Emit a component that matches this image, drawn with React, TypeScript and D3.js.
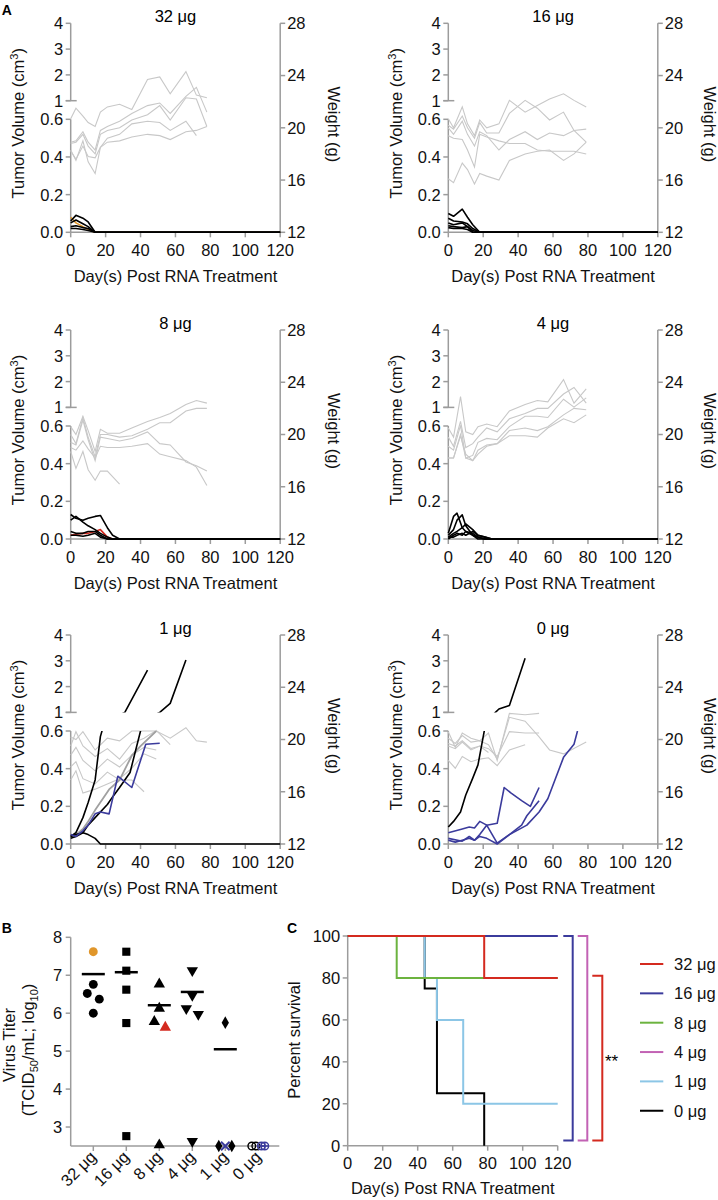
import React from "react";
import * as d3 from "d3";

const FONT = "'Liberation Sans', Arial, Helvetica, sans-serif";
const AXIS = "#9c9c9c";
const WCOL = "#c8c8c8";
const BLUE = "#3b3b9c";
const RED = "#d42a1f";
const ORANGE = "#e0962a";
const GREEN = "#6cb33f";
const PURPLE = "#c262b4";
const LBLUE = "#8cc6e6";

// ---------------- Panel A ticks ----------------
const dayTicks = [0, 20, 40, 60, 80, 100, 120];
const volLowTicks = [0, 0.2, 0.4, 0.6];
const volLowLabels = ["0.0", "0.2", "0.4", "0.6"];
const volUpTicks = [1, 2, 3, 4];
const weightTicks = [12, 16, 20, 24, 28];

// ---------------- 32 µg ----------------
const w32Days = [0, 3, 7, 10, 14, 17, 21, 28, 35, 44, 51, 57, 66, 72, 78];
const w32a = [20.7, 21.5, 20.9, 20.4, 20.1, 21.2, 21.6, 21.8, 21.4, 23.7, 23.9, 22.6, 24.3, 22.5, 22.3];
const w32b = [18.9, 19.0, 19.7, 18.9, 18.3, 19.8, 20.1, 20.5, 21.1, 21.7, 21.9, 21.1, 22.4, 23.1, 21.2];
const w32c = [18.8, 18.9, 19.5, 18.6, 18.0, 19.5, 19.8, 20.0, 20.6, 21.0, 21.7, 20.6, 22.3, 22.2, 20.1];
const w32d = [18.3, 17.5, 19.0, 17.4, 16.5, 18.5, 19.2, 19.5, 20.3, 20.5, 20.4, 19.8, 20.5, 19.4];
const w32e = [18.2, 17.6, 18.6, 17.8, 17.7, 18.5, 18.9, 19.0, 19.3, 19.5, 19.4, 19.1, 19.7, 19.8, 20.1];
const t32Days = [0, 3, 7, 10, 14, 120];
const t32o = [0.08, 0.05, 0.03, 0.015, 0, 0];
const t32a = [0.06, 0.09, 0.075, 0.055, 0, 0];
const t32b = [0.05, 0.065, 0.045, 0.03, 0, 0];
const t32c = [0.03, 0.035, 0.025, 0.02, 0, 0];
const t32d = [0.02, 0.02, 0.015, 0.01, 0, 0];

// ---------------- 16 µg ----------------
const w16Days = [0, 3, 8, 11, 15, 18, 22, 29, 35, 44, 51, 58, 66, 72, 79];
const w16a = [20.7, 20.0, 21.6, 20.3, 19.4, 20.6, 20.0, 20.3, 22.1, 21.2, 21.7, 22.2, 22.6, 22.1, 21.6];
const w16b = [20.2, 19.9, 20.9, 20.0, 19.2, 20.4, 19.6, 19.6, 21.1, 22.1, 21.5, 20.6, 21.2, 19.8, 18.9];
const w16c = [20.0, 19.5, 20.5, 19.5, 18.6, 19.7, 19.4, 18.3, 19.1, 19.7, 19.1, 19.6, 19.4, 19.8, 19.9];
const w16d = [19.4, 19.2, 19.1, 18.3, 17.0, 19.5, 19.3, 19.0, 18.8, 18.8, 18.3, 18.2, 18.2, 18.2, 18.0];
const w16e = [16.1, 15.8, 17.3, 16.8, 15.7, 16.5, 16.3, 16.0, 17.5, 18.0, 18.2, 18.3, 17.5, 18.0, 18.9];
const t16Days = [0, 3, 8, 11, 14, 18, 120];
const t16a = [0.1, 0.085, 0.123, 0.08, 0.04, 0, 0];
const t16b = [0.075, 0.06, 0.055, 0.045, 0.02, 0, 0];
const t16c = [0.05, 0.04, 0.05, 0.03, 0.01, 0, 0];
const t16d = [0.035, 0.03, 0.025, 0.03, 0, 0, 0];
const t16e = [0.025, 0.02, 0.02, 0.015, 0, 0, 0];

// ---------------- 8 µg ----------------
const w8Days = [0, 3, 7, 10, 14, 17, 21, 28, 35, 44, 51, 57, 66, 72, 78];
const w8a = [20.6, 20.0, 21.4, 20.3, 18.7, 20.4, 20.1, 20.1, 20.5, 21.0, 21.3, 21.6, 22.3, 22.6, 22.4];
const w8b = [20.0, 19.3, 21.3, 19.8, 18.3, 20.0, 20.0, 19.8, 19.9, 20.4, 20.9, 20.9, 21.8, 22.0, 22.0];
const w8c = [19.4, 19.2, 21.1, 19.6, 18.0, 19.8, 19.7, 19.5, 19.7, 20.2, 19.3, 19.2, 17.9, 17.6, 17.2];
const w8d = [19.0, 18.8, 19.5, 18.9, 18.2, 19.1, 19.0, 19.0, 19.1, 19.3, 18.5, 18.3, 18.0, 17.5, 16.1];
const w8e = [18.7, 17.4, 18.7, 17.3, 16.5, 17.2, 17.2, 16.2];
const t8Days = [0, 3, 7, 10, 14, 17, 21, 24, 28, 120];
const t8a = [0.13, 0.11, 0.1, 0.11, 0.12, 0.125, 0.06, 0.02, 0, 0];
const t8b = [0.1, 0.12, 0.09, 0.07, 0.05, 0.03, 0.01, 0, 0, 0];
const t8c = [0.04, 0.03, 0.03, 0.04, 0.04, 0.02, 0, 0, 0, 0];
const t8d = [0.02, 0.02, 0.015, 0.02, 0.03, 0.01, 0, 0, 0, 0];
const t8r = [0.02, 0.025, 0.03, 0.03, 0.04, 0.05, 0.01, 0, 0];

// ---------------- 4 µg ----------------
const w4Days = [0, 3, 7, 10, 14, 17, 22, 28, 35, 44, 51, 57, 66, 72, 79];
const w4a = [20.5, 19.8, 22.9, 20.2, 20.0, 20.6, 20.8, 20.6, 21.8, 22.3, 22.6, 22.5, 24.2, 22.4, 23.5];
const w4b = [19.8, 19.1, 21.0, 19.0, 19.3, 19.8, 20.5, 20.2, 21.2, 21.6, 22.0, 22.0, 23.1, 23.6, 22.4];
const w4c = [19.1, 18.8, 20.7, 18.2, 18.4, 19.4, 19.7, 19.6, 20.6, 21.4, 21.4, 21.3, 22.7, 22.1, 22.8];
const w4d = [18.2, 18.2, 20.0, 18.2, 18.0, 18.8, 19.2, 19.3, 20.3, 20.5, 20.3, 20.6, 21.5, 22.0, 21.9];
const w4e = [18.2, 18.2, 19.9, 18.5, 18.0, 18.5, 19.1, 19.3, 19.9, 19.9, 19.8, 20.5, 21.2, 20.9, 21.5];
const t4Days = [0, 3, 5, 8, 10, 14, 17, 21, 25, 120];
const t4a = [0.03, 0.12, 0.137, 0.06, 0.04, 0.02, 0.01, 0, 0, 0];
const t4b = [0.02, 0.05, 0.1, 0.128, 0.07, 0.02, 0, 0, 0, 0];
const t4c = [0.01, 0.03, 0.04, 0.06, 0.08, 0.05, 0.02, 0.01, 0, 0];
const t4d = [0, 0.02, 0.03, 0.02, 0.04, 0.03, 0.01, 0, 0, 0];
const t4e = [0.01, 0.01, 0.02, 0.03, 0.02, 0.04, 0.02, 0.01, 0, 0];

// ---------------- 1 µg ----------------
const w1Days = [0, 3, 7, 14, 21, 28, 35, 42, 49, 57, 66, 72, 78];
const w1a = [20.2, 20.0, 20.6, 19.2, 20.1, 19.9, 20.65, 20.65, 20.65, 20.1, 20.9, 19.9, 19.8];
const w1b = [19.5, 20.6, 19.5, 18.7, 19.3, 18.5, 19.7, 20.1, 20.7, 19.6];
const w1c = [18.8, 19.4, 18.4, 17.6, 18.5, 17.9, 18.8, 19.4, 19.2];
const w1d = [17.9, 18.3, 17.0, 16.6, 17.5, 16.9, 16.9, 16.0];
const w1e = [16.9, 17.6, 15.9, 16.2, 16.6, 17.0, 17.8, 18.9, 18.5];
const t1aDays = [0, 3, 7, 10, 14, 17, 21, 28, 31, 44];
const t1a = [0.04, 0.06, 0.14, 0.22, 0.34, 0.57, 0.7, 0.9, 1.0, 2.64];
const t1bDays = [0, 3, 7, 10, 14, 21, 24, 28, 34, 40, 45, 51, 57, 66];
const t1b = [0.03, 0.04, 0.06, 0.1, 0.14, 0.21, 0.25, 0.3, 0.38, 0.6, 0.8, 1.0, 1.35, 3.03];
const t1cDays = [0, 3, 7, 10, 14, 17, 120];
const t1c = [0.04, 0.05, 0.06, 0.05, 0.03, 0, 0];
const t1gDays = [0, 3, 7, 10, 14, 22, 28, 35, 40, 49];
const t1g = [0.04, 0.05, 0.08, 0.12, 0.18, 0.29, 0.34, 0.47, 0.52, 0.6];
const t1uDays = [0, 3, 7, 10, 14, 17, 22, 27, 35, 43, 51];
const t1u = [0.05, 0.04, 0.07, 0.1, 0.16, 0.17, 0.16, 0.36, 0.3, 0.53, 0.535];

// ---------------- 0 µg ----------------
const w0Days = [0, 4, 8, 13, 18, 23, 28, 35, 44, 52, 58, 66, 79];
const w0a = [20.6, 19.4, 20.5, 20.1, 19.9, 20.5, 18.4, 22.0, 21.9, 22.0];
const w0b = [20.1, 19.7, 20.3, 19.8, 19.9, 19.6, 18.5, 21.7, 21.4, 20.2, 19.2, 18.9, 19.8];
const w0c = [19.7, 19.5, 19.9, 19.3, 19.5, 19.3, 18.7, 20.6, 20.5, 20.5];
const w0d = [18.4, 17.8, 18.7, 18.3, 18.5, 18.6, 18.0, 19.2, 19.6];
const w0e = [19.5, 19.3, 19.8, 19.2, 19.5, 19.0];
const t0kDays = [0, 3, 7, 10, 14, 17, 21, 24, 27, 29, 35, 44];
const t0k = [0.09, 0.12, 0.17, 0.26, 0.35, 0.42, 0.62, 0.8, 1.0, 1.13, 1.27, 3.1];
const t0aDays = [0, 8, 12, 15, 18, 22, 28, 32, 36, 42, 47, 52];
const t0a = [0.06, 0.08, 0.09, 0.085, 0.12, 0.1, 0.11, 0.3, 0.27, 0.23, 0.2, 0.3];
const t0bDays = [0, 8, 12, 15, 18, 22, 28, 35, 42, 45, 52];
const t0b = [0.03, 0.015, 0.04, 0.02, 0.05, 0.1, 0.005, 0.05, 0.1, 0.15, 0.23];
const t0cDays = [0, 4, 8, 12, 15, 18, 22, 28, 35, 45, 52, 57, 66, 72, 74];
const t0c = [0.02, 0.01, 0.02, 0.03, 0.02, 0.04, 0.03, 0.0, 0.05, 0.1, 0.17, 0.24, 0.46, 0.53, 0.6];

type Series = { days: number[]; vals: number[]; color: string; width: number };
const blk = (days: number[], vals: number[], color = "#000", width = 1.6): Series => ({ days, vals, color, width });

const panelsA = [
  { title: "32 μg", col: 0, row: 0, wDays: w32Days, weights: [w32a, w32b, w32c, w32d, w32e],
    tumors: [blk(t32Days, t32o, ORANGE), blk(t32Days, t32a), blk(t32Days, t32b), blk(t32Days, t32c), blk(t32Days, t32d)] },
  { title: "16 μg", col: 1, row: 0, wDays: w16Days, weights: [w16a, w16b, w16c, w16d, w16e],
    tumors: [blk(t16Days, t16a), blk(t16Days, t16b), blk(t16Days, t16c), blk(t16Days, t16d), blk(t16Days, t16e)] },
  { title: "8 μg", col: 0, row: 1, wDays: w8Days, weights: [w8a, w8b, w8c, w8d, w8e],
    tumors: [blk(t8Days, t8r, RED), blk(t8Days, t8a), blk(t8Days, t8b), blk(t8Days, t8c), blk(t8Days, t8d)] },
  { title: "4 μg", col: 1, row: 1, wDays: w4Days, weights: [w4a, w4b, w4c, w4d, w4e],
    tumors: [blk(t4Days, t4a), blk(t4Days, t4b), blk(t4Days, t4c), blk(t4Days, t4d), blk(t4Days, t4e)] },
  { title: "1 μg", col: 0, row: 2, wDays: w1Days, weights: [w1a, w1b, w1c, w1d, w1e],
    tumors: [blk(t1gDays, t1g, "#a0a0a0", 1.8), blk(t1aDays, t1a), blk(t1bDays, t1b), blk(t1cDays, t1c), blk(t1uDays, t1u, BLUE)] },
  { title: "0 μg", col: 1, row: 2, wDays: w0Days, weights: [w0a, w0b, w0c, w0d, w0e],
    tumors: [blk(t0kDays, t0k), blk(t0aDays, t0a, BLUE), blk(t0bDays, t0b, BLUE), blk(t0cDays, t0c, BLUE)] },
];

const COLX = [70.7, 448.3];
const ROWY = [23.3, 330, 635];
const PW = 209.5;
const FS = 16.5;

function TumorPanel({ p, idx }: { p: any; idx: number }) {
  const xL = COLX[p.col];
  const xR = xL + PW;
  const top = ROWY[p.row];
  const y4 = top, y1 = top + 77.4, y06 = top + 96, y0 = top + 209;
  const x = d3.scaleLinear().domain([0, 120]).range([xL, xR]);
  const lo = d3.scaleLinear().domain([0, 0.6]).range([y0, y06]);
  const up = d3.scaleLinear().domain([1, 4]).range([y1, y4]);
  const w = d3.scaleLinear().domain([12, 28]).range([y0, y4]);
  const pts = (days: number[], vals: number[]) => vals.map((v, i) => [days[i], v] as [number, number]);
  const wLine = d3.line<[number, number]>().x(d => x(d[0])).y(d => w(d[1]));
  const loLine = d3.line<[number, number]>().x(d => x(d[0])).y(d => lo(d[1]));
  const upLine = d3.line<[number, number]>().x(d => x(d[0])).y(d => up(d[1]));
  const cx = (xL + xR) / 2;
  const labX = p.col === 0 ? 23.5 : 402;
  const wLabX = p.col === 0 ? 328 : 704;
  return (
    <g>
      <defs>
        <clipPath id={`lo${idx}`}><rect x={xL - 2} y={y06} width={PW + 4} height={y0 - y06 + 2} /></clipPath>
        <clipPath id={`up${idx}`}><rect x={xL - 2} y={y4 - 2} width={PW + 4} height={y1 - y4 + 2} /></clipPath>
      </defs>
      <text x={cx} y={top - 1.5} textAnchor="middle" fontSize={FS}>{p.title}</text>
      <g stroke={AXIS} strokeWidth={1.5} fill="none">
        <line x1={xL} x2={xL} y1={y0} y2={y06} />
        <line x1={xL} x2={xL} y1={y1} y2={y4} />
        <line x1={xL - 5} x2={xL + 6} y1={y1} y2={y1} />
        {volLowTicks.map(t => <line key={t} x1={xL - 5} x2={xL} y1={lo(t)} y2={lo(t)} />)}
        {volUpTicks.map(t => <line key={t} x1={xL - 5} x2={xL} y1={up(t)} y2={up(t)} />)}
        <line x1={xR} x2={xR} y1={y0} y2={y4} />
        {weightTicks.map(t => <line key={t} x1={xR} x2={xR + 5} y1={w(t)} y2={w(t)} />)}
        <line x1={xL} x2={xR} y1={y0} y2={y0} />
        {dayTicks.map(t => <line key={t} x1={x(t)} x2={x(t)} y1={y0} y2={y0 + 5} />)}
      </g>
      <g fontSize={FS} fill="#111">
        {volLowTicks.map((t, i) => <text key={t} x={xL - 7.5} y={lo(t)} dy="0.36em" textAnchor="end">{volLowLabels[i]}</text>)}
        {volUpTicks.map(t => <text key={t} x={xL - 7.5} y={up(t)} dy="0.36em" textAnchor="end">{t}</text>)}
        {weightTicks.map(t => <text key={t} x={xR + 7} y={w(t)} dy="0.36em" textAnchor="start">{t}</text>)}
        {dayTicks.map(t => <text key={t} x={x(t)} y={y0 + 23.7} textAnchor="middle">{t}</text>)}
        <text x={cx} y={y0 + 50} textAnchor="middle">Day(s) Post RNA Treatment</text>
        <text transform={`translate(${labX},${top + 100}) rotate(-90)`} textAnchor="middle">
          Tumor Volume (cm<tspan dy="-6" fontSize={11}>3</tspan><tspan dy="6">)</tspan>
        </text>
        <text transform={`translate(${wLabX},${top + 101}) rotate(90)`} textAnchor="middle">Weight (g)</text>
      </g>
      <g fill="none" stroke={WCOL} strokeWidth={1.1}>
        {p.weights.map((vals: number[], i: number) => <path key={i} d={wLine(pts(p.wDays, vals)) || ""} />)}
      </g>
      <g fill="none" strokeLinejoin="round">
        <g clipPath={`url(#lo${idx})`}>
          {p.tumors.map((s: Series, i: number) => <path key={i} d={loLine(pts(s.days, s.vals)) || ""} stroke={s.color} strokeWidth={s.width} />)}
        </g>
        <g clipPath={`url(#up${idx})`}>
          {p.tumors.map((s: Series, i: number) => <path key={i} d={upLine(pts(s.days, s.vals)) || ""} stroke={s.color} strokeWidth={s.width} />)}
        </g>
      </g>
    </g>
  );
}

// ---------------- Panel B ----------------
const titerGroups = ["32 μg", "16 μg", "8 μg", "4 μg", "1 μg", "0 μg"];
const titerTicks = [3, 4, 5, 6, 7, 8];
const titerMeans = [7.03, 7.08, 6.21, 6.56, 5.05];
const titer32 = [7.62, 6.76, 6.52, 6.37, 6.0];
const titer16 = [7.62, 7.12, 6.62, 5.74, 2.76];
const titer8 = [6.74, 6.1, 5.75, 5.6, 2.5];
const titer4 = [7.15, 6.5, 6.15, 6.0, 2.65];
const titer1 = [5.75, 2.5, 2.5, 2.5];
const titer0 = [2.5, 2.5, 2.5, 2.5];
const col32 = [ORANGE, "#000", "#000", "#000", "#000"];
const off32 = [0, 0, -6, 6, 0];
const col8 = ["#000", "#000", "#000", RED, "#000"];
const off8 = [0, 0, -5, 6, 0];
const off4 = [0, 0, -6, 6, 0];
const off1 = [0, -6.5, 0, 6.5];
const col1 = ["#000", "#000", BLUE, "#000"];
const off0 = [-6.5, -2.5, 3, 6.5];
const col0 = ["#000", "#000", BLUE, BLUE];

function TiterPanel() {
  const xL = 70.7, xR = 279.3;
  const y = d3.scaleLinear().domain([2.5, 8]).range([1146, 937.3]);
  const x = d3.scalePoint<string>().domain(titerGroups).range([93.3, 258.3]);
  const sym = (type: any, size: number) => d3.symbol().type(type).size(size)() || "";
  const circ = sym(d3.symbolCircle, 62);
  const sq = sym(d3.symbolSquare, 66);
  const tri = sym(d3.symbolTriangle, 56);
  const dia = sym(d3.symbolDiamond, 46);
  const times = sym(d3.symbolTimes, 50);
  const g = (i: number) => x(titerGroups[i]) as number;
  return (
    <g>
      <text x={1.7} y={933} fontSize={14} fontWeight="bold">B</text>
      <g stroke={AXIS} strokeWidth={1.5}>
        <line x1={xL} x2={xL} y1={y(2.5)} y2={y(8)} />
        {titerTicks.map(t => <line key={t} x1={xL - 5} x2={xL} y1={y(t)} y2={y(t)} />)}
        <line x1={xL} x2={xR} y1={y(2.5)} y2={y(2.5)} />
        {titerGroups.map(gr => <line key={gr} x1={x(gr)!} x2={x(gr)!} y1={y(2.5)} y2={y(2.5) + 5} />)}
      </g>
      <g fontSize={FS} fill="#111">
        {titerTicks.map(t => <text key={t} x={xL - 8.5} y={y(t)} dy="0.36em" textAnchor="end">{t}</text>)}
        {titerGroups.map(gr => (
          <text key={gr} transform={`translate(${x(gr)! + 4},${y(2.5) + 12}) rotate(-45)`} textAnchor="end">{gr}</text>
        ))}
        <text transform="translate(14.5,1045) rotate(-90)" textAnchor="middle">Virus Titer</text>
        <text transform="translate(34,1050) rotate(-90)" textAnchor="middle">
          (TCID<tspan dy="4" fontSize={11}>50</tspan><tspan dy="-4">/mL; log</tspan><tspan dy="4" fontSize={11}>10</tspan><tspan dy="-4">)</tspan>
        </text>
      </g>
      {titer32.map((v, i) => <path key={"a" + i} d={circ} transform={`translate(${g(0) + off32[i]},${y(v)})`} fill={col32[i]} />)}
      {titer16.map((v, i) => <path key={"b" + i} d={sq} transform={`translate(${g(1)},${y(v)})`} fill="#000" />)}
      {titer8.map((v, i) => <path key={"c" + i} d={tri} transform={`translate(${g(2) + off8[i]},${y(v) - 1})`} fill={col8[i]} />)}
      {titer4.map((v, i) => <path key={"d" + i} d={tri} transform={`translate(${g(3) + off4[i]},${y(v) + 1}) rotate(180)`} fill="#000" />)}
      {titer1.map((v, i) => col1[i] === BLUE
        ? <path key={"e" + i} d={times} transform={`translate(${g(4) + off1[i]},${y(v)})`} fill="none" stroke={BLUE} strokeWidth={2} />
        : <path key={"e" + i} d={dia} transform={`translate(${g(4) + off1[i]},${y(v)})`} fill="#000" />)}
      {titer0.map((v, i) => (
        <g key={"f" + i} transform={`translate(${g(5) + off0[i]},${y(v)})`} stroke={col0[i]} strokeWidth={1.4} fill="none">
          <circle r={3.8} />
          {col0[i] === BLUE ? <path d="M-3.8,0H3.8M0,-3.8V3.8" /> : null}
        </g>
      ))}
      <g stroke="#000" strokeWidth={2.5}>
        {titerMeans.map((m, i) => <line key={i} x1={g(i) - 11.5} x2={g(i) + 11.5} y1={y(m)} y2={y(m)} />)}
      </g>
    </g>
  );
}

// ---------------- Panel C ----------------
const survTicksX = [0, 20, 40, 60, 80, 100, 120];
const survTicksY = [0, 20, 40, 60, 80, 100];
const legendLabels = ["32 μg", "16 μg", "8 μg", "4 μg", "1 μg", "0 μg"];
const legendColors = [RED, BLUE, GREEN, PURPLE, LBLUE, "#000"];
const s32Days = [0, 78, 120]; const s32 = [100, 80, 80];
const s16Days = [0, 120]; const s16 = [100, 100];
const s8Days = [0, 28, 120]; const s8 = [100, 80, 80];
const s4Days = [0, 120]; const s4 = [100, 100];
const s1Days = [0, 44, 51, 66, 120]; const s1 = [100, 80, 60, 20, 20];
const s0Days = [0, 44, 51, 78]; const s0 = [100, 75, 25, 0];

function SurvivalPanel() {
  const xL = 347.7, xR = 557.7;
  const x = d3.scaleLinear().domain([0, 120]).range([xL, xR]);
  const y = d3.scaleLinear().domain([0, 100]).range([1145.7, 936]);
  const line = d3.line<[number, number]>().x(d => x(d[0])).y(d => y(d[1])).curve(d3.curveStepAfter);
  const pts = (days: number[], vals: number[]) => vals.map((v, i) => [days[i], v] as [number, number]);
  const curves = [
    { d: s4Days, v: s4, c: PURPLE },
    { d: s16Days, v: s16, c: BLUE },
    { d: s0Days, v: s0, c: "#000" },
    { d: s1Days, v: s1, c: LBLUE },
    { d: s8Days, v: s8, c: GREEN },
    { d: s32Days, v: s32, c: RED },
  ];
  const bracket = (xa: number, xb: number, ya: number, yb: number) => `M${xa},${ya}H${xb}V${yb}H${xa}`;
  const yb = y(2.5);
  return (
    <g>
      <text x={287} y={933} fontSize={14} fontWeight="bold">C</text>
      <g stroke={AXIS} strokeWidth={1.5}>
        <line x1={xL} x2={xL} y1={y(0)} y2={y(100)} />
        <line x1={xL} x2={xR} y1={y(0)} y2={y(0)} />
        {survTicksY.map(t => <line key={t} x1={xL - 5} x2={xL} y1={y(t)} y2={y(t)} />)}
        {survTicksX.map(t => <line key={t} x1={x(t)} x2={x(t)} y1={y(0)} y2={y(0) + 5} />)}
      </g>
      <g fontSize={FS} fill="#111">
        {survTicksY.map(t => <text key={t} x={xL - 7.5} y={y(t)} dy="0.36em" textAnchor="end">{t}</text>)}
        {survTicksX.map(t => <text key={t} x={x(t)} y={1169} textAnchor="middle">{t}</text>)}
        <text x={(xL + xR) / 2} y={1193.5} textAnchor="middle">Day(s) Post RNA Treatment</text>
        <text transform="translate(300,1040) rotate(-90)" textAnchor="middle">Percent survival</text>
      </g>
      <g fill="none" strokeWidth={2}>
        {curves.map((c, i) => <path key={i} d={line(pts(c.d, c.v)) || ""} stroke={c.c} />)}
        <path d={bracket(x(120) + 5.6, x(120) + 15, y(100), yb)} stroke={BLUE} />
        <path d={bracket(x(120) + 20, x(120) + 29.6, y(100), yb)} stroke={PURPLE} />
        <path d={bracket(x(120) + 34.6, x(120) + 44.6, y(81), yb)} stroke={RED} />
      </g>
      <text x={605} y={1067} fontSize={17}>**</text>
      {legendLabels.map((l, i) => (
        <g key={l} transform={`translate(0,${964 + i * 29.35})`}>
          <line x1={640} x2={663.3} y1={0} y2={0} stroke={legendColors[i]} strokeWidth={2} />
          <text x={674} y={6} fontSize={16.5} fill="#111">{l}</text>
        </g>
      ))}
    </g>
  );
}

export default function App() {
  return (
    <svg width={718} height={1200} style={{ position: "absolute", left: 0, top: 0, fontFamily: FONT, background: "#fff" }}>
      <rect width={718} height={1200} fill="#fff" />
      <text x={1.7} y={15} fontSize={14} fontWeight="bold">A</text>
      {panelsA.map((p, i) => <TumorPanel key={i} p={p} idx={i} />)}
      <TiterPanel />
      <SurvivalPanel />
    </svg>
  );
}
